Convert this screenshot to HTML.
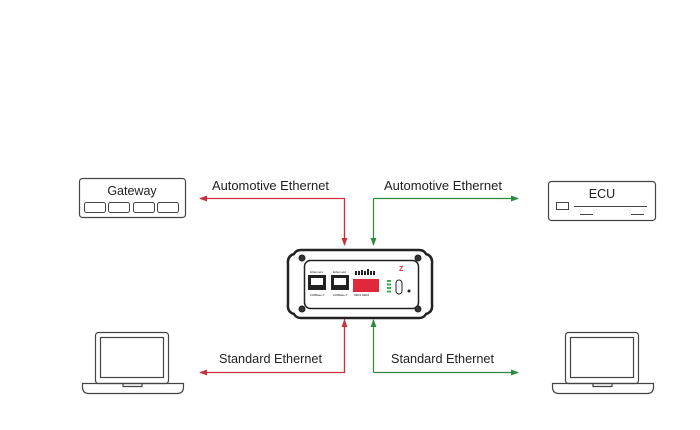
<!DOCTYPE html>
<html><head><style>
html,body{margin:0;padding:0;background:#fff;}
svg{display:block;font-family:"Liberation Sans",sans-serif;}
</style></head><body>
<svg width="700" height="430" viewBox="0 0 700 430" xmlns="http://www.w3.org/2000/svg">
<defs>
<marker id="ar" markerWidth="8" markerHeight="8" refX="7" refY="4" orient="auto" markerUnits="userSpaceOnUse"><path d="M0,1 L8,4 L0,7 Z" fill="#c8323c"/></marker>
<marker id="ag" markerWidth="8" markerHeight="8" refX="7" refY="4" orient="auto" markerUnits="userSpaceOnUse"><path d="M0,1 L8,4 L0,7 Z" fill="#2e8b3e"/></marker>
</defs>
<!-- Gateway -->
<rect x="79.5" y="178.5" width="106" height="39" rx="3" fill="none" stroke="#444" stroke-width="1.2"/>
<text x="132" y="195" font-size="12.5" text-anchor="middle" fill="#222">Gateway</text>
<g fill="none" stroke="#444" stroke-width="1"><rect x="84.5" y="202.5" width="21" height="10" rx="2"/><rect x="108.5" y="202.5" width="21" height="10" rx="2"/><rect x="133.5" y="202.5" width="21" height="10" rx="2"/><rect x="157.5" y="202.5" width="21" height="10" rx="2"/></g>
<!-- ECU -->
<rect x="548.5" y="181.5" width="107" height="39" rx="3" fill="none" stroke="#444" stroke-width="1.2"/>
<text x="602" y="198" font-size="12.5" text-anchor="middle" fill="#222">ECU</text>
<g stroke="#444" stroke-width="1" fill="none"><rect x="556.5" y="202.5" width="12" height="7"/><line x1="574" y1="206.5" x2="647" y2="206.5"/><line x1="580" y1="214.5" x2="593" y2="214.5"/><line x1="631" y1="214.5" x2="644" y2="214.5"/></g>
<!-- laptops -->
<g fill="none" stroke="#444" stroke-width="1.2">
<rect x="95.5" y="332.5" width="73" height="51" rx="3"/><rect x="100.5" y="337.5" width="63" height="40"/>
<path d="M82.5,383.5 H183.5 V387 Q183.5,393.5 177,393.5 H89 Q82.5,393.5 82.5,387 Z"/><path d="M123,383.5 V386.5 H142 V383.5"/>
<rect x="565.5" y="332.5" width="73" height="51" rx="3"/><rect x="570.5" y="337.5" width="63" height="40"/>
<path d="M552.5,383.5 H653.5 V387 Q653.5,393.5 647,393.5 H559 Q552.5,393.5 552.5,387 Z"/><path d="M593,383.5 V386.5 H612 V383.5"/>
</g>
<!-- connectors -->
<g fill="none" stroke-width="1.2">
<path d="M344.5,245 V198.5 H200" stroke="#c8323c" marker-end="url(#ar)"/>
<line x1="344.5" y1="198.5" x2="344.5" y2="245" stroke="#c8323c" marker-end="url(#ar)"/>
<path d="M373.5,198.5 H518" stroke="#2e8b3e" marker-end="url(#ag)"/>
<line x1="373.5" y1="198.5" x2="373.5" y2="245" stroke="#2e8b3e" marker-end="url(#ag)"/>
<path d="M344.5,318 V372.5 H200" stroke="#c8323c" marker-end="url(#ar)"/>
<line x1="344.5" y1="372.5" x2="344.5" y2="320" stroke="#c8323c" marker-end="url(#ar)"/>
<path d="M373.5,372.5 H518" stroke="#2e8b3e" marker-end="url(#ag)"/>
<line x1="373.5" y1="372.5" x2="373.5" y2="320" stroke="#2e8b3e" marker-end="url(#ag)"/>
</g>
<g font-size="12.5" fill="#222">
<text x="212" y="190" textLength="117" lengthAdjust="spacingAndGlyphs">Automotive Ethernet</text>
<text x="384" y="190" textLength="118" lengthAdjust="spacingAndGlyphs">Automotive Ethernet</text>
<text x="219" y="363" textLength="103" lengthAdjust="spacingAndGlyphs">Standard Ethernet</text>
<text x="391" y="363" textLength="103" lengthAdjust="spacingAndGlyphs">Standard Ethernet</text>
</g>
<!-- device -->
<path d="M301,250 H419 Q424,250 426,254 Q433,256 432,264 V304 Q433,312 426,314 Q424,318 419,318 H301 Q296,318 294,314 Q287,312 288,304 V264 Q287,256 294,254 Q296,250 301,250 Z" fill="#fff" stroke="#222" stroke-width="2.5"/>
<rect x="304.5" y="260.5" width="114" height="48" rx="6" fill="#fff" stroke="#222" stroke-width="1.5"/>
<g fill="#333" stroke="#222" stroke-width="1"><circle cx="302" cy="258" r="3"/><circle cx="418" cy="258" r="3"/><circle cx="302" cy="309" r="3"/><circle cx="418" cy="309" r="3"/></g>
<rect x="308" y="275" width="18" height="15" fill="#222"/><rect x="311" y="278" width="12" height="7" fill="#fff"/>
<rect x="331" y="275" width="18" height="15" fill="#222"/><rect x="334" y="278" width="12" height="7" fill="#fff"/>
<g font-size="3" fill="#222"><text x="310" y="273">Ethernet1</text><text x="333" y="273">Ethernet2</text><text x="310" y="296">100Base-T</text><text x="333" y="296">100Base-T</text><text x="354" y="296">MIR1 MIR2</text></g>
<rect x="353" y="279" width="26" height="13" fill="#e0283a"/>
<g fill="#222"><rect x="355" y="271" width="2" height="4"/><rect x="358" y="271" width="2" height="4"/><rect x="361" y="270" width="2" height="5"/><rect x="364" y="271" width="2" height="4"/><rect x="367" y="269" width="2" height="6"/><rect x="370" y="271" width="2" height="4"/><rect x="373" y="271" width="2" height="4"/></g>
<g fill="#3cb04a"><rect x="387" y="280" width="4" height="2"/><rect x="387" y="283.5" width="4" height="2"/><rect x="387" y="287" width="4" height="2"/><rect x="387" y="290.5" width="4" height="2"/></g>
<rect x="396" y="280" width="6" height="14" rx="3" fill="none" stroke="#222" stroke-width="1"/>
<circle cx="409" cy="291" r="1.5" fill="#222"/>
<text x="399" y="271" font-size="7" font-weight="bold" fill="#e0283a">Z</text>
</svg>
</body></html>
